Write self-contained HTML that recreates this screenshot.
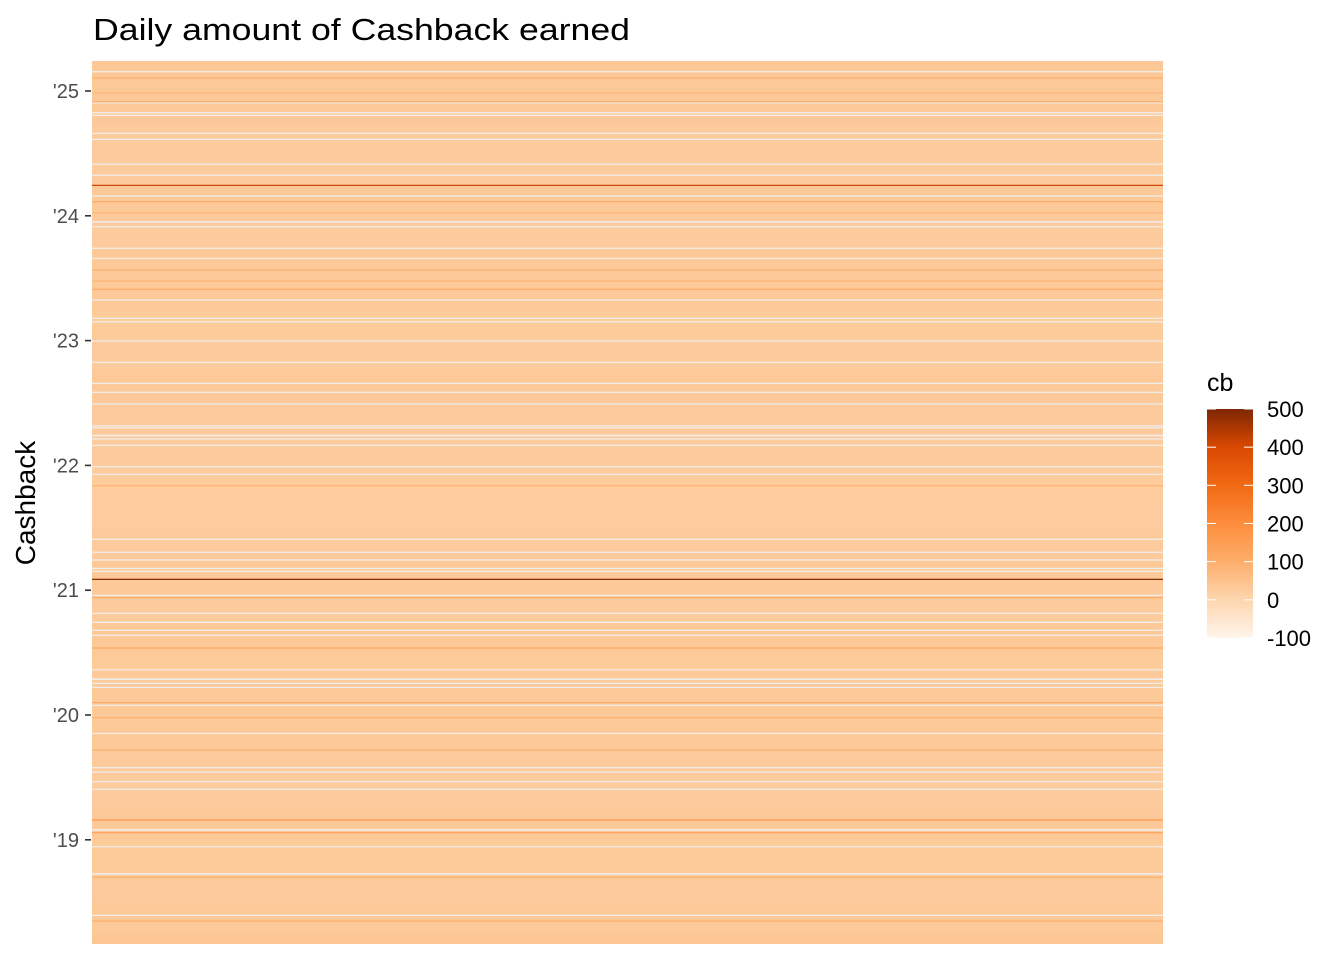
<!DOCTYPE html>
<html><head><meta charset="utf-8"><style>
html,body{margin:0;padding:0;background:#fff;}
svg{display:block;font-family:"Liberation Sans",sans-serif;}
</style></head><body>
<svg id="chart" width="1344" height="960" viewBox="0 0 1344 960">
<text x="93" y="40" font-size="31" fill="#000" textLength="537" lengthAdjust="spacingAndGlyphs">Daily amount of Cashback earned</text>
<text transform="translate(35,503) rotate(-90)" text-anchor="middle" font-size="28" fill="#000">Cashback</text>
<g id="plot"></g>
<g id="yaxis"></g>
<g id="legend"></g>
</svg>
<script>
// quarter starts (decimal years) and base cashback levels
const baseStarts = [2018.00,2018.25,2018.50,2018.75,2019.00,2019.25,2019.50,2019.75,2020.00,2020.25,2020.50,2020.75,2021.00,2021.25,2021.50,2021.75,2022.00,2022.25,2022.50,2022.75,2023.00,2023.25,2023.50,2023.75,2024.00,2024.25,2024.50,2024.75,2025.00];
const baseValues = [38,32,30,31,32,30,30,33,32,31,33,30,32,30,27,28,29,30,32,30,31,32,32,30,33,30,30,34,34];
// days without cashback (gaps)
const gapDays = [2025.155,2024.906,2024.826,2024.805,2024.661,2024.613,2024.413,2024.325,2024.159,2023.950,2023.953,2023.913,2023.740,2023.659,2023.325,2023.179,2023.151,2022.997,2022.826,2022.658,2022.586,2022.492,2022.318,2022.302,2022.238,2022.241,2022.212,2022.161,2021.990,2021.929,2021.408,2021.304,2021.242,2021.175,2021.151,2020.959,2020.815,2020.743,2020.679,2020.639,2020.363,2020.286,2020.289,2020.254,2020.222,2020.078,2019.853,2019.578,2019.543,2019.466,2019.405,2019.079,2019.082,2018.945,2018.726,2018.729,2018.395];
// notable high-cashback days
const peakDays = [2025.104,2024.984,2024.914,2024.244,2024.113,2024.022,2023.565,2023.477,2023.411,2021.837,2021.087,2020.940,2020.537,2020.099,2019.978,2019.719,2019.159,2019.057,2018.700,2018.349];
const peakValues = [100,80,110,420,110,80,100,90,110,90,500,110,120,120,100,110,170,130,100,100];
const yTicks = [2019,2020,2021,2022,2023,2024,2025];
const yTickLabels = ["'19","'20","'21","'22","'23","'24","'25"];
const legendBreaks = [-100,0,100,200,300,400,500];

const NS="http://www.w3.org/2000/svg";
const X0=92,X1=1163,Y_TOP=61,Y_BOT=944;
const yScale=t=>91+(2025-t)*124.8;
const stops=[[-100,[255,245,235]],[0,[253,214,175]],[100,[253,174,107]],[200,[253,141,60]],[300,[241,105,19]],[400,[217,72,1]],[500,[127,39,4]]];
function color(v){
  for(let i=0;i<stops.length-1;i++){
    const a=stops[i],b=stops[i+1];
    if(v<=b[0]||i===stops.length-2){
      let f=Math.max(0,Math.min(1,(v-a[0])/(b[0]-a[0])));
      const c=a[1].map((x,k)=>Math.round(x+(b[1][k]-x)*f));
      return `rgb(${c[0]},${c[1]},${c[2]})`;
    }
  }
}
const plot=document.getElementById('plot');
function rect(x,y,w,h,fill){const r=document.createElementNS(NS,'rect');r.setAttribute('x',x);r.setAttribute('y',y);r.setAttribute('width',w);r.setAttribute('height',h);r.setAttribute('fill',fill);return r;}
const clip=document.createElementNS(NS,'clipPath');clip.setAttribute('id','pc');clip.appendChild(rect(X0,Y_TOP,X1-X0,Y_BOT-Y_TOP,'#000'));document.getElementById('chart').appendChild(clip);
plot.setAttribute('clip-path','url(#pc)');
baseStarts.forEach((t,i)=>{
  const y1=yScale(t+0.25),y2=yScale(t);
  const r=rect(X0,y1,X1-X0,y2-y1+0.5,color(baseValues[i]));
  
  
  plot.appendChild(r);
});
gapDays.forEach(t=>{
  const r=rect(X0,yScale(t)-0.6,X1-X0,1.3,'#f0ece8');
  
  
  plot.appendChild(r);
});
peakDays.forEach((t,i)=>{
  const r=rect(X0,yScale(t)-0.6,X1-X0,1.2,color(peakValues[i]));
  
  
  plot.appendChild(r);
});
const yaxis=document.getElementById('yaxis');
yTicks.forEach((t,i)=>{
  const y=yScale(t);
  const tk=rect(85,y-0.8,6,1.6,'#333');
  
  
  yaxis.appendChild(tk);
  const tx=document.createElementNS(NS,'text');
  tx.setAttribute('x',79);tx.setAttribute('y',y+7);tx.setAttribute('text-anchor','end');
  tx.setAttribute('font-size','20');tx.setAttribute('fill','#4d4d4d');
  tx.textContent=yTickLabels[i];
  
  
  yaxis.appendChild(tx);
});
const leg=document.getElementById('legend');
const LY0=409,LY1=638,LX=1207,LW=46;
const ly=v=>LY1-(v+100)/600*(LY1-LY0);
const defs=document.createElementNS(NS,'defs');
const grad=document.createElementNS(NS,'linearGradient');
grad.setAttribute('id','lg');grad.setAttribute('x1','0');grad.setAttribute('y1','1');grad.setAttribute('x2','0');grad.setAttribute('y2','0');
stops.forEach(s=>{const st=document.createElementNS(NS,'stop');st.setAttribute('offset',(s[0]+100)/600);st.setAttribute('stop-color',color(s[0]));grad.appendChild(st);});
defs.appendChild(grad);leg.appendChild(defs);
const bar=rect(LX,LY0,LW,LY1-LY0,'url(#lg)');


leg.appendChild(bar);
const lt=document.createElementNS(NS,'text');
lt.setAttribute('x',1207);lt.setAttribute('y',391);lt.setAttribute('font-size','25');lt.textContent='cb';


leg.appendChild(lt);
legendBreaks.forEach(v=>{
  const y=ly(v);
  [LX,LX+LW-9].forEach(x=>{const m=rect(x,y-0.5,9,1,'#fff');
    
    
    leg.appendChild(m);});
  const t=document.createElementNS(NS,'text');
  t.setAttribute('x',1267);t.setAttribute('y',y+8);t.setAttribute('font-size','22');t.textContent=v;
  
  
  leg.appendChild(t);
});
</script>
</body></html>
